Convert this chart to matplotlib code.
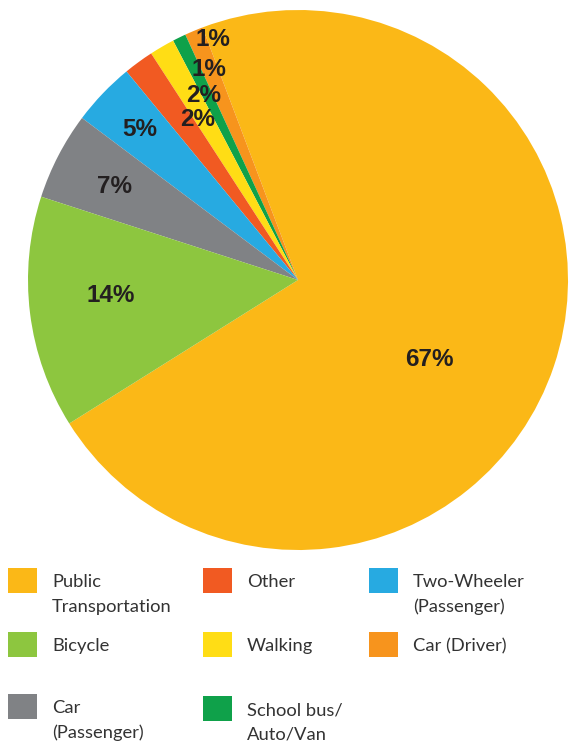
import matplotlib.pyplot as plt
from matplotlib.patches import Rectangle

# Travel mode shares (printed labels) and slice sizes as drawn in the picture
modes = ['Public\nTransportation', 'Car (Driver)', 'School bus/\nAuto/Van', 'Walking',
         'Other', 'Two-Wheeler\n(Passenger)', 'Car\n(Passenger)', 'Bicycle']
pct_labels = ['67%', '1%', '1%', '2%', '2%', '5%', '7%', '14%']
slice_sizes = [71.8, 1.1, 0.8, 1.5, 1.8, 3.8, 5.25, 13.9]
colors = ['#FBB817', '#F7941D', '#0FA14A', '#FFDD15', '#F15A22', '#27AAE1', '#808285', '#8DC63F']

# label positions (in pie radius units, relative to centre)
label_xy = [(0.485, -0.293), (-0.315, 0.889), (-0.33, 0.781), (-0.348, 0.685),
            (-0.370, 0.593), (-0.585, 0.556), (-0.678, 0.348), (-0.692, -0.059)]

W, H = 571, 744
fig = plt.figure(figsize=(W / 100, H / 100), dpi=100)

# pie centre (298, 280) px from top-left, radius 270 px
cx, cy, r = 298, 280, 270
ax = fig.add_axes([(cx - r) / W, (H - cy - r) / H, 2 * r / W, 2 * r / H])
ax.pie(slice_sizes, colors=colors, startangle=212.1, counterclock=True,
       radius=1, wedgeprops=dict(linewidth=0))
ax.set_xlim(-1, 1)
ax.set_ylim(-1, 1)
ax.set_aspect('equal')
ax.axis('off')

for (lx, ly), txt in zip(label_xy, pct_labels):
    ax.text(lx, ly, txt, ha='center', va='center', fontsize=17.5,
            fontweight='bold', color='#231F20', family='Liberation Sans')

# legend laid out by hand in a 3-column grid
col_x = [8, 203, 369]
text_x = [52, 247, 413]
row_y = [580, 644, 706]
order = [0, 4, 5, 7, 3, 1, 6, 2]  # reading order in the legend grid
for k, idx in enumerate(order):
    row, col = divmod(k, 3)
    y = row_y[row] + (2 if (row == 2 and col == 1) else 0)
    fig.patches.append(Rectangle((col_x[col] / W, 1 - (y + 12.5) / H), 29 / W, 25 / H,
                                 transform=fig.transFigure, color=colors[idx], lw=0))
    lines = modes[idx].split('\n')
    for j, line in enumerate(lines):
        fig.text(text_x[col] / W, 1 - (y + 2 + 25 * j) / H, line, ha='left', va='center',
                 fontsize=13.2, color='#333333', family='Lato')

fig.savefig('out.png', dpi=100)
